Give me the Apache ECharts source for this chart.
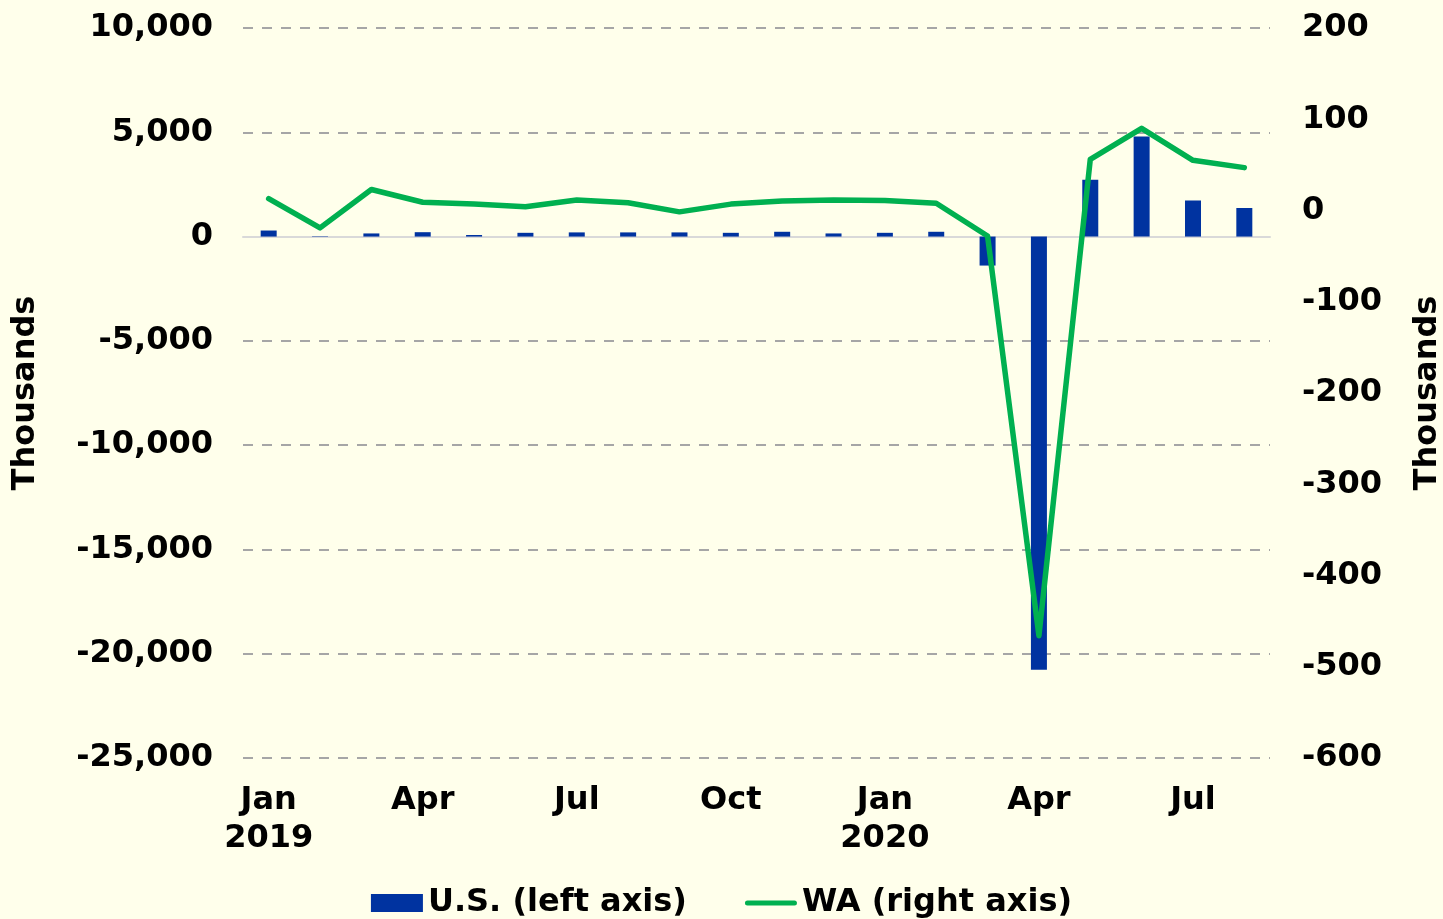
<!DOCTYPE html>
<html>
<head>
<meta charset="utf-8">
<script src="https://cdn.jsdelivr.net/npm/echarts@6/dist/echarts.min.js"></script>
<style>
	html, body { margin: 0; padding: 0; background: #FFFFEB; }
	#chart { width: 1443px; height: 919px; }
</style>
</head>
<body>
<div id="chart"></div>
<script>
// months Jan 2019 .. Aug 2020
var months = ['Jan\n2019', 'Feb', 'Mar', 'Apr', 'May', 'Jun', 'Jul', 'Aug', 'Sep', 'Oct', 'Nov', 'Dec',
	'Jan\n2020', 'Feb', 'Mar', 'Apr', 'May', 'Jun', 'Jul', 'Aug'];
// U.S. monthly job change, thousands (left axis)
var usJobs = [290, 20, 150, 210, 75, 180, 200, 200, 200, 180, 230, 150,
	180, 230, -1390, -20770, 2730, 4800, 1730, 1370];
// WA monthly job change, thousands (right axis)
var waJobs = [13, -19, 23, 9, 7, 4, 11.5, 8.5, -1.5, 7, 10.5, 11.5,
	11, 8, -28, -466, 56, 90, 55, 47];

var font = 'DejaVu Sans';
var fs = 32;
var chart = echarts.init(document.getElementById('chart'));

var option = {
	backgroundColor: '#FFFFEB',
	textStyle: { fontFamily: font },
	grid: { left: 243, right: 173, top: 28, bottom: 161, outerBoundsMode: 'none' },
	legend: {
		bottom: -5,
		left: 'center',
		itemGap: 58,
		itemWidth: 52,
		itemHeight: 18,
		textStyle: { fontFamily: font, fontWeight: 'bold', fontSize: fs, color: '#000' },
		data: [
			{ name: 'U.S. (left axis)', icon: 'rect' },
			{ name: 'WA (right axis)', icon: 'path://M2.5,0 L49.5,0 A2.5,2.5 0 0 1 49.5,5 L2.5,5 A2.5,2.5 0 0 1 2.5,0 Z' }
		]
	},
	xAxis: [
		{
			type: 'category',
			data: months,
			axisLine: { onZero: true, lineStyle: { color: '#D9D9D9', width: 2 } },
			axisTick: { show: false },
			axisLabel: { show: false }
		},
		{
			type: 'category',
			data: months,
			position: 'bottom',
			axisLine: { show: false },
			axisTick: { show: false },
			axisLabel: {
				interval: 2,
				margin: 24,
				fontFamily: font,
				fontWeight: 'bold',
				fontSize: fs,
				lineHeight: 38,
				color: '#000'
			}
		}
	],
	yAxis: [
		{
			type: 'value',
			min: -25000,
			max: 10000,
			interval: 5000,
			name: 'Thousands',
			nameLocation: 'middle',
			nameRotate: 90,
			nameGap: 201,
			nameTextStyle: { fontFamily: font, fontWeight: 'bold', fontSize: fs, color: '#000' },
			axisLine: { show: false },
			axisTick: { show: false },
			splitLine: { lineStyle: { color: '#A6A6A6', type: [10, 9], width: 2 } },
			axisLabel: {
				margin: 30,
				fontFamily: font,
				fontWeight: 'bold',
				fontSize: fs,
				color: '#000',
				formatter: function (v) { return v.toString().replace(/\B(?=(\d{3})+(?!\d))/g, ','); }
			}
		},
		{
			type: 'value',
			min: -600,
			max: 200,
			interval: 100,
			name: 'Thousands',
			nameLocation: 'middle',
			nameRotate: 90,
			nameGap: 142,
			nameTextStyle: { fontFamily: font, fontWeight: 'bold', fontSize: fs, color: '#000' },
			axisLine: { show: false },
			axisTick: { show: false },
			splitLine: { show: false },
			axisLabel: {
				margin: 32,
				fontFamily: font,
				fontWeight: 'bold',
				fontSize: fs,
				color: '#000'
			}
		}
	],
	series: [
		{
			name: 'U.S. (left axis)',
			type: 'bar',
			xAxisIndex: 0,
			yAxisIndex: 0,
			barWidth: 16,
			itemStyle: { color: '#0033A0' },
			data: usJobs
		},
		{
			name: 'WA (right axis)',
			type: 'line',
			xAxisIndex: 0,
			yAxisIndex: 1,
			symbol: 'none',
			lineStyle: { color: '#00B050', width: 5.5, cap: 'round', join: 'round' },
			itemStyle: { color: '#00B050' },
			data: waJobs
		}
	]
};

chart.setOption(option);
</script>
</body>
</html>
